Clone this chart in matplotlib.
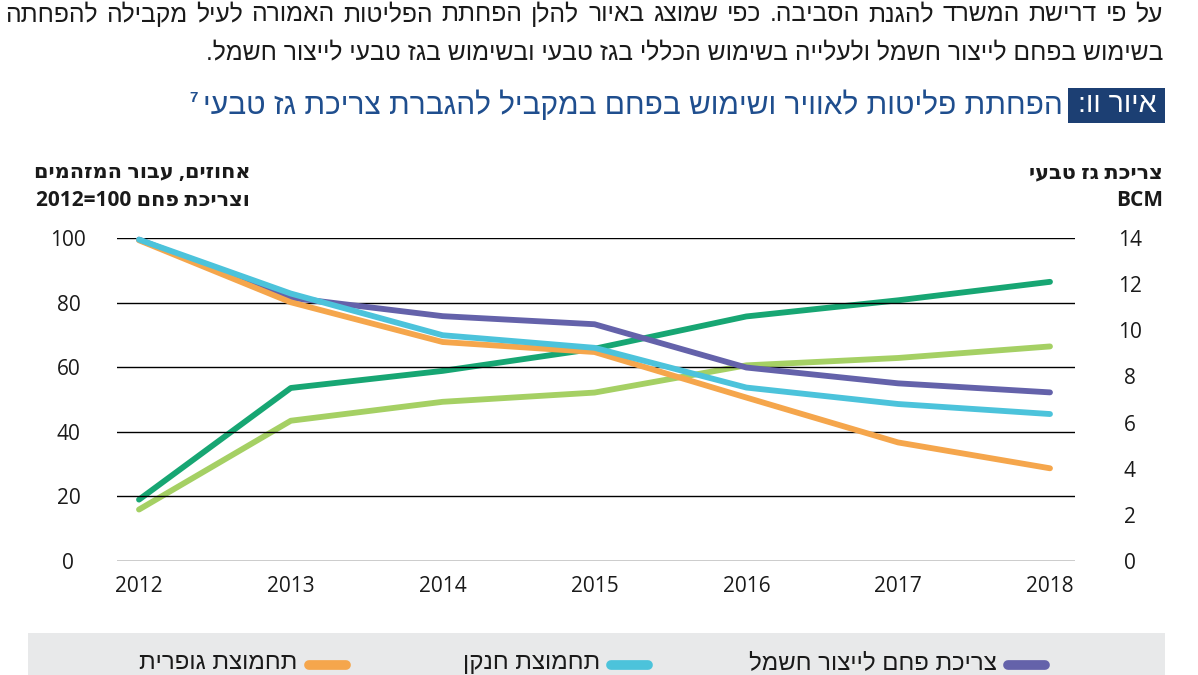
import re
import matplotlib
matplotlib.use("Agg")
import matplotlib.pyplot as plt
from matplotlib.patches import Rectangle
from matplotlib.lines import Line2D

# ---------------- data ----------------
years = [2012, 2013, 2014, 2015, 2016, 2017, 2018]
coal_power = [99.5, 81.5, 75.8, 73.3, 59.9, 55.0, 52.2]        # index 2012=100
nox = [99.5, 82.8, 69.9, 66.0, 53.7, 48.6, 45.5]               # index 2012=100
sox = [99.3, 80.1, 67.8, 64.7, 50.6, 36.7, 28.7]               # index 2012=100
gas_total = [2.66, 7.5, 8.24, 9.2, 10.6, 11.3, 12.1]           # BCM
gas_power = [2.23, 6.08, 6.9, 7.3, 8.48, 8.8, 9.3]             # BCM
left_ticks = [0, 20, 40, 60, 80, 100]
right_ticks = [0, 2, 4, 6, 8, 10, 12, 14]

line1 = "על פי דרישת המשרד להגנת הסביבה. כפי שמוצג באיור להלן הפחתת הפליטות האמורה לעיל מקבילה להפחתה"
line2 = "בשימוש בפחם לייצור חשמל ולעלייה בשימוש הכללי בגז טבעי ובשימוש בגז טבעי לייצור חשמל."
fig_label = "איור וו:"
title = "הפחתת פליטות לאוויר ושימוש בפחם במקביל להגברת צריכת גז טבעי"
footnote = "7"
left_head = ["אחוזים, עבור המזהמים", "וצריכת פחם 2012=100"]
right_head = ["צריכת גז טבעי", "BCM"]
legend_labels = ["צריכת פחם לייצור חשמל", "תחמוצת חנקן", "תחמוצת גופרית"]

C_COAL = "#6462AA"
C_NOX = "#4CC3DB"
C_SOX = "#F5A64C"
C_GAS = "#17A673"
C_GASP = "#A5D064"
NAVY = "#1C3F73"
TITLE_BLUE = "#1F4E8E"


def vis(s):
    """logical RTL string -> visual (left-to-right) order"""
    r = s[::-1]
    return re.sub(r"[0-9A-Za-z=]+", lambda m: m.group(0)[::-1], r)


W, H = 1198, 675
fig = plt.figure(figsize=(W / 100, H / 100), dpi=100)
fig.patch.set_facecolor("white")
renderer = fig.canvas.get_renderer()

HEB = ["Liberation Sans Narrow", "Liberation Sans", "DejaVu Sans"]
SANS = ["Open Sans", "DejaVu Sans"]


def fx(x):
    return x / W


def fy(y):
    return 1 - y / H


def justified(text, xl, xr, y, **kw):
    words = text.split(" ")  # logical order, first word is rightmost
    objs = [fig.text(0, fy(y), vis(w), ha="left", va="center", **kw) for w in words]
    widths = [o.get_window_extent(renderer).width for o in objs]
    gap = ((xr - xl) - sum(widths)) / (len(words) - 1)
    x = xr
    for o, w in zip(objs, widths):
        o.set_x(fx(x - w))
        x -= w + gap


# ---------------- text above chart ----------------
justified(line1, 5, 1163, 14, fontsize=17.7, family=HEB, color="#1a1a1a")
fig.text(fx(1163), fy(52), vis(line2), ha="right", va="center", fontsize=17.7,
         family=HEB, color="#1a1a1a")

fig.patches.append(Rectangle((fx(1068), fy(123)), fx(97), 35 / H,
                             transform=fig.transFigure, facecolor=NAVY,
                             edgecolor="none"))
fig.text(fx(1117), fy(105), vis(fig_label), ha="center", va="center",
         fontsize=20.5, family=HEB, color="white")
t = fig.text(fx(1063), fy(105), vis(title), ha="right", va="center",
             fontsize=21.5, family=HEB, color=TITLE_BLUE)
tl = t.get_window_extent(renderer).x0
fig.text(fx(tl - 6), fy(98), footnote, ha="right", va="center", fontsize=11,
         family=HEB, color=TITLE_BLUE, fontweight="bold")

# axis headers
hk = dict(fontsize=15, fontweight="bold", family=SANS, color="#1a1a1a",
          va="center", ha="right")
fig.text(fx(250), fy(173), vis(left_head[0]), **hk)
fig.text(fx(250), fy(200), vis(left_head[1]), **hk)
fig.text(fx(1163), fy(173), vis(right_head[0]), **hk)
fig.text(fx(1163), fy(200), right_head[1], **hk)

# ---------------- axes ----------------
ax_l, ax_r = 117, 1075
ax_t, ax_b = 238, 561
ax = fig.add_axes([fx(ax_l), fy(ax_b), (ax_r - ax_l) / W, (ax_b - ax_t) / H])
ax2 = ax.twinx()

x0 = years[0] - 22 / 151.8
x1 = years[-1] + 25 / 151.8
for a in (ax, ax2):
    a.set_xlim(x0, x1)
    for s in a.spines.values():
        s.set_visible(False)
    a.tick_params(length=0)
ax.set_ylim(0, 100)
ax2.set_ylim(0, 14)
ax.set_yticks(left_ticks)
ax2.set_yticks(right_ticks)
ax.set_xticks(years)
tk = dict(fontsize=15, family=SANS, color="#1a1a1a")
ax.set_xticklabels([str(y) for y in years], **tk)
ax.set_yticklabels([str(v) for v in left_ticks], **tk)
ax2.set_yticklabels([str(v) for v in right_ticks], **tk)
ax.tick_params(axis="x", pad=11)
for lab in ax.get_yticklabels():
    lab.set_horizontalalignment("center")
for lab in ax2.get_yticklabels():
    lab.set_horizontalalignment("center")
ax.tick_params(axis="y", pad=35)
ax2.tick_params(axis="y", pad=39.5)
ax.yaxis.grid(True, color="black", linewidth=1.0)
ax.set_axisbelow(True)
ax.patch.set_alpha(0)

lw = 4.2
kw = dict(linewidth=lw, solid_capstyle="round", solid_joinstyle="round",
          clip_on=False)
ax2.plot(years, gas_power, color=C_GASP, **kw)
ax2.plot(years, gas_total, color=C_GAS, **kw)
ax.plot(years, coal_power, color=C_COAL, zorder=3, **kw)
ax.plot(years, sox, color=C_SOX, zorder=4, **kw)
ax.plot(years, nox, color=C_NOX, zorder=5, **kw)
ax.set_zorder(ax2.get_zorder() + 1)

# ---------------- legend ----------------
fig.patches.append(Rectangle((fx(28), 0), fx(1137), fy(633),
                             transform=fig.transFigure, facecolor="#E8E9EA",
                             edgecolor="none"))
leg = [(legend_labels[0], C_COAL, 1008, 1045, 997),
       (legend_labels[1], C_NOX, 611, 648, 600),
       (legend_labels[2], C_SOX, 309, 346, 297)]
for lab, col, m0, m1, tx in leg:
    fig.lines.append(Line2D([fx(m0), fx(m1)], [fy(665), fy(665)],
                            transform=fig.transFigure, color=col,
                            linewidth=7, solid_capstyle="round"))
    fig.text(fx(tx), fy(663), vis(lab), ha="right", va="center",
             fontsize=17.3, family=HEB, color="#1a1a1a")

fig.savefig("out.png", dpi=100)
